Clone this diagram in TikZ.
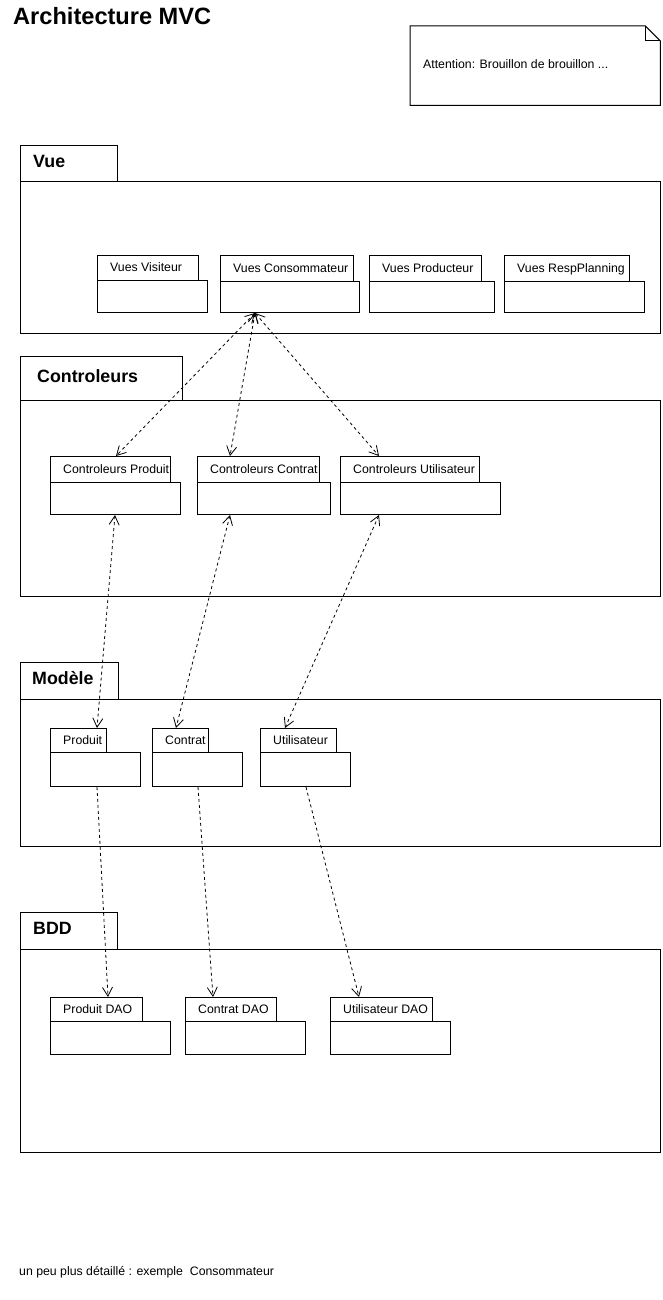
\documentclass[tikz,border=0pt]{standalone}
\usepackage{fontspec}
\setmainfont{Liberation Sans}
\usetikzlibrary{arrows.meta}

% UML package: tab + body, label set in the tab
% #1 label style, #2 name, #3 x1, #4 y1, #5 tab right, #6 tab bottom, #7 x2, #8 y2, #9 text
\newcommand\umlpkg[9]{%
  \node[pkgpart, minimum width={#5-#3}, minimum height={#6-#4}] (#2-tab) at (#3,#4) {};
  \node[pkgpart, minimum width={#7-#3}, minimum height={#8-#6}] (#2) at (#3,#6) {};
  \node[#1] (#2-label) at ([xshift=13pt]#2-tab.west) {#9};
}

\begin{document}
\begin{tikzpicture}[x=1pt,y=-1pt,
  pkgpart/.style={draw, line width=1pt, inner sep=0pt, anchor=north west},
  biglabel/.style={anchor=west, inner sep=0pt, font=\fontsize{17.8}{20}\selectfont\bfseries, text height=0.72em, text depth=0pt},
  smalllabel/.style={anchor=west, inner sep=0pt, font=\fontsize{12.3}{14}\selectfont, text height=0.72em, text depth=0pt},
  plaintext/.style={anchor=base west, inner sep=0pt, font=\fontsize{12.3}{14}\selectfont},
  tip/.tip={Straight Barb[length=9pt,width=10pt]},
  dep/.style={line width=0.8pt, dash pattern=on 3pt off 3pt, -tip},
  depboth/.style={line width=0.8pt, dash pattern=on 3pt off 3pt, tip-tip},
]
\useasboundingbox (0,0) rectangle (662,1300);

% title
\node[anchor=base west, inner sep=0pt, font=\fontsize{23.6}{26}\selectfont\bfseries] (title) at (13,25) {Architecture MVC};

% note with folded corner
\node[anchor=north west, inner sep=0pt, minimum width=250pt, minimum height=79pt] (note) at (410,26) {};
\draw[line width=1pt] (note.north west) -- ([xshift=-15pt]note.north east)
  -- ([yshift=-15pt]note.north east) -- (note.south east) -- (note.south west) -- cycle;
\draw[line width=1pt] ([xshift=-15pt]note.north east) |- ([yshift=-15pt]note.north east);
\node[plaintext] (note-text) at (423,69) {Attention: Brouillon de brouillon ...};

% Vue
\umlpkg{biglabel}{vue}{20}{145}{117}{181}{660}{333}{Vue}
\umlpkg{smalllabel}{vv}{97}{255}{198}{280}{207}{312}{Vues Visiteur}
\umlpkg{smalllabel}{vcs}{220}{255}{353}{281}{359}{312}{Vues Consommateur}
\umlpkg{smalllabel}{vp}{369}{255}{481}{281}{494}{312}{Vues Producteur}
\umlpkg{smalllabel}{vr}{504}{255}{629}{281}{644}{312}{Vues RespPlanning}

% Controleurs
\umlpkg{biglabel,xshift=4pt}{ctrl}{20}{356}{182}{400}{660}{596}{Controleurs}
\umlpkg{smalllabel}{cp}{50}{456}{170}{482}{180}{514}{Controleurs Produit}
\umlpkg{smalllabel}{cc}{197}{456}{319}{482}{330}{514}{Controleurs Contrat}
\umlpkg{smalllabel}{cu}{340}{456}{479}{482}{500}{514}{Controleurs Utilisateur}

% Modele
\umlpkg{biglabel,xshift=-1pt}{mod}{20}{662}{118}{699}{660}{846}{Modèle}
\umlpkg{smalllabel}{mp}{50}{728}{106}{752}{140}{786}{Produit}
\umlpkg{smalllabel}{mc}{152}{728}{208}{752}{242}{786}{Contrat}
\umlpkg{smalllabel}{mu}{260}{728}{336}{752}{350}{786}{Utilisateur}

% BDD
\umlpkg{biglabel}{bdd}{20}{912}{117}{949}{660}{1152}{BDD}
\umlpkg{smalllabel}{dp}{50}{997}{142}{1021}{170}{1054}{Produit DAO}
\umlpkg{smalllabel}{dc}{185}{997}{276}{1021}{305}{1054}{Contrat DAO}
\umlpkg{smalllabel}{du}{330}{997}{432}{1021}{450}{1054}{Utilisateur DAO}

% Vue <-> Controleurs
\draw[depboth] ([xshift=35pt]vcs.south west) -- ([xshift=66pt]cp-tab.north west);
\draw[depboth] ([xshift=35pt]vcs.south west) -- ([xshift=33pt]cc-tab.north west);
\draw[depboth] ([xshift=35pt]vcs.south west) -- ([xshift=39pt]cu-tab.north west);

% Controleurs <-> Modele
\draw[depboth] ([xshift=65pt]cp.south west) -- ([xshift=47pt]mp-tab.north west);
\draw[depboth] ([xshift=33pt]cc.south west) -- ([xshift=24pt]mc-tab.north west);
\draw[depboth] ([xshift=39pt]cu.south west) -- ([xshift=25pt]mu-tab.north west);

% Modele -> BDD
\draw[dep] ([xshift=47pt]mp.south west) -- ([xshift=58pt]dp-tab.north west);
\draw[dep] ([xshift=46pt]mc.south west) -- ([xshift=28pt]dc-tab.north west);
\draw[dep] ([xshift=46pt]mu.south west) -- ([xshift=29pt]du-tab.north west);

% footer
\node[plaintext] (footer) at (19,1275) {un peu plus détaillé : exemple\ \ Consommateur};
\end{tikzpicture}
\end{document}
